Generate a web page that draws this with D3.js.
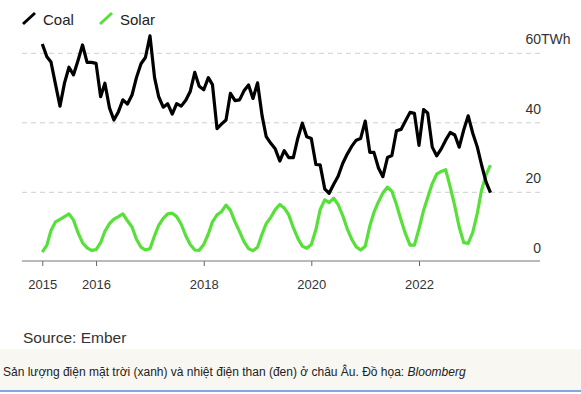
<!DOCTYPE html>
<html><head><meta charset="utf-8">
<script src="https://cdn.jsdelivr.net/npm/d3@7"></script>
<style>
html,body{margin:0;padding:0;background:#fff;}
svg{display:block;font-family:"Liberation Sans",Arial,Helvetica,sans-serif;}
</style></head><body>
<svg id="chart" width="581" height="394"></svg>
<script>
// Monthly generation in Europe, TWh, Jan 2015 - May 2023
const coal = [
  62.7, 59, 57.5, 51, 44.8, 51.5, 56, 53.8, 58, 62.4, 57.4, 57.4,
  57.1, 47.5, 51.4, 44.3, 40.8, 43.2, 46.6, 45.4, 48, 53, 57, 58.8,
  65, 53, 47.5, 44.5, 45.5, 42.5, 45.5, 44.8, 46.5, 49, 54.5, 50.5,
  49.5, 53, 51, 38.3, 39.6, 40.8, 48.5, 46.4, 46.6, 49.2, 50.9, 47,
  51.5, 42, 36, 34.1, 32.5, 29, 32, 30, 30, 35.5, 39.9, 36,
  35.5, 28, 27.9, 21, 19.7, 22.3, 24.6, 28.3, 31, 33.2, 35, 35.5,
  40.5, 31.5, 31.5, 27, 24.5, 30, 30.6, 37.7, 38.1, 40.5, 43, 42.7,
  33.5, 43.8, 42.8, 33, 30.5, 32.5, 35, 37.2, 36.5, 33, 38, 42,
  37, 33, 28, 23, 19.9
];
const solar = [
  2.8, 4.8, 9, 11.5, 12.2, 13, 13.8, 12, 8.3, 5.5, 4, 3.3,
  3.5, 5.5, 8.8, 11, 12.3, 13, 13.8, 11.8, 10, 6.5, 4.2, 3.4,
  3.8, 7.5, 10.5, 12.5, 13.8, 14, 13, 10.8, 7.5, 5, 3.4, 3.3,
  5, 8, 11.5, 13.5, 14.4, 16.3, 14.8, 11.5, 8.7, 5.8, 3.8, 3.2,
  4.2, 8, 11, 12.8, 15, 16.5, 15.5, 13.5, 9.8, 6.8, 4.5, 3.9,
  5, 9.2, 15, 17.8, 17, 18.3, 16.5, 13.3, 9.5, 6.5, 4.3, 3.4,
  4.5, 10.3, 14.2, 17.3, 19.8, 21.5, 20.3, 16.5, 12, 8.1, 4.8, 4.8,
  9.5, 14.8, 18.5, 22.5, 25.2, 26, 26.5, 21.5, 16, 10, 5.5, 5.3,
  8.5, 14, 20.5, 25, 27.8
];
const startYear = 2015;
const xTickYears = [2015, 2016, 2018, 2020, 2022];
const yTicks = [0, 20, 40, 60];
const yUnit = "TWh";
const seriesNames = ["Coal", "Solar"];
const seriesColors = ["#000000", "#58e03a"];
const sourceText = "Source: Ember";
const captionText = "Sản lượng điện mặt trời (xanh) và nhiệt điện than (đen) ở châu Âu. Đồ họa: ";
const captionItalic = "Bloomberg";

const svg = d3.select("#chart");
const months = coal.map((_, i) => new Date(startYear, i, 1));

const x = d3.scaleTime()
  .domain([new Date(2015, 0, 1), new Date(2022, 0, 1)])
  .range([42.3, 419]);
const y = d3.scaleLinear().domain([0, 60]).range([261.8, 53.3]);

// gridlines
svg.append("g").selectAll("line")
  .data(yTicks.filter(d => d > 0))
  .join("line")
  .attr("x1", 22).attr("x2", 541)
  .attr("y1", d => y(d)).attr("y2", d => y(d))
  .attr("stroke", "#cfcfcf").attr("stroke-width", 1)
  .attr("stroke-dasharray", "5,4");

// y labels
const yl = svg.append("g").attr("font-size", 14).attr("fill", "#333");
yl.selectAll("text.num")
  .data(yTicks)
  .join("text").attr("class", "num")
  .attr("x", 541).attr("y", d => y(d) - 9)
  .attr("text-anchor", "end")
  .text(d => d);
yl.append("text")
  .attr("x", 541).attr("y", y(60) - 9)
  .text(yUnit);

// x axis
const xAxis = d3.axisBottom(x)
  .tickValues(xTickYears.map(yr => new Date(yr, 0, 1)))
  .tickFormat(d3.timeFormat("%Y"))
  .tickSize(5).tickPadding(14);
const gx = svg.append("g").attr("transform", "translate(0,261)").call(xAxis);
gx.select(".domain").remove();
gx.selectAll(".tick line").attr("stroke", "#666");
gx.selectAll(".tick text").attr("font-size", 13).attr("fill", "#333")
  .attr("font-family", null).attr("dy", "0.71em");
svg.append("line")
  .attr("x1", 22).attr("x2", 540).attr("y1", 261).attr("y2", 261)
  .attr("stroke", "#777").attr("stroke-width", 1.2);

// lines
const line = d3.line().x((d, i) => x(months[i])).y(d => y(d));
[solar, coal].forEach((s, k) => {
  const idx = k === 0 ? 1 : 0;
  svg.append("path")
    .datum(s)
    .attr("d", line)
    .attr("fill", "none")
    .attr("stroke", seriesColors[idx])
    .attr("stroke-width", 3.2)
    .attr("stroke-linejoin", "round");
});

// legend
const legendX = [23, 100];
const lg = svg.append("g");
seriesNames.forEach((n, i) => {
  lg.append("line")
    .attr("x1", legendX[i]).attr("y1", 24)
    .attr("x2", legendX[i] + 12).attr("y2", 13)
    .attr("stroke", seriesColors[i]).attr("stroke-width", 3);
  lg.append("text")
    .attr("x", legendX[i] + 20).attr("y", 25)
    .attr("font-size", 15).attr("fill", "#222")
    .text(n);
});

// source
svg.append("text")
  .attr("x", 23).attr("y", 343)
  .attr("font-size", 15.5).attr("fill", "#333")
  .text(sourceText);

// caption box
svg.append("rect").attr("x", 0).attr("y", 349).attr("width", 581).attr("height", 42)
  .attr("fill", "#f8f7f2");
svg.append("line").attr("x1", 0).attr("x2", 581).attr("y1", 391).attr("y2", 391)
  .attr("stroke", "#5b8bd9").attr("stroke-width", 1.5);
const cap = svg.append("text")
  .attr("x", 3).attr("y", 376)
  .attr("font-size", 12).attr("fill", "#222");
cap.append("tspan").text(captionText);
cap.append("tspan").attr("font-style", "italic").text(captionItalic);
</script>
</body></html>
